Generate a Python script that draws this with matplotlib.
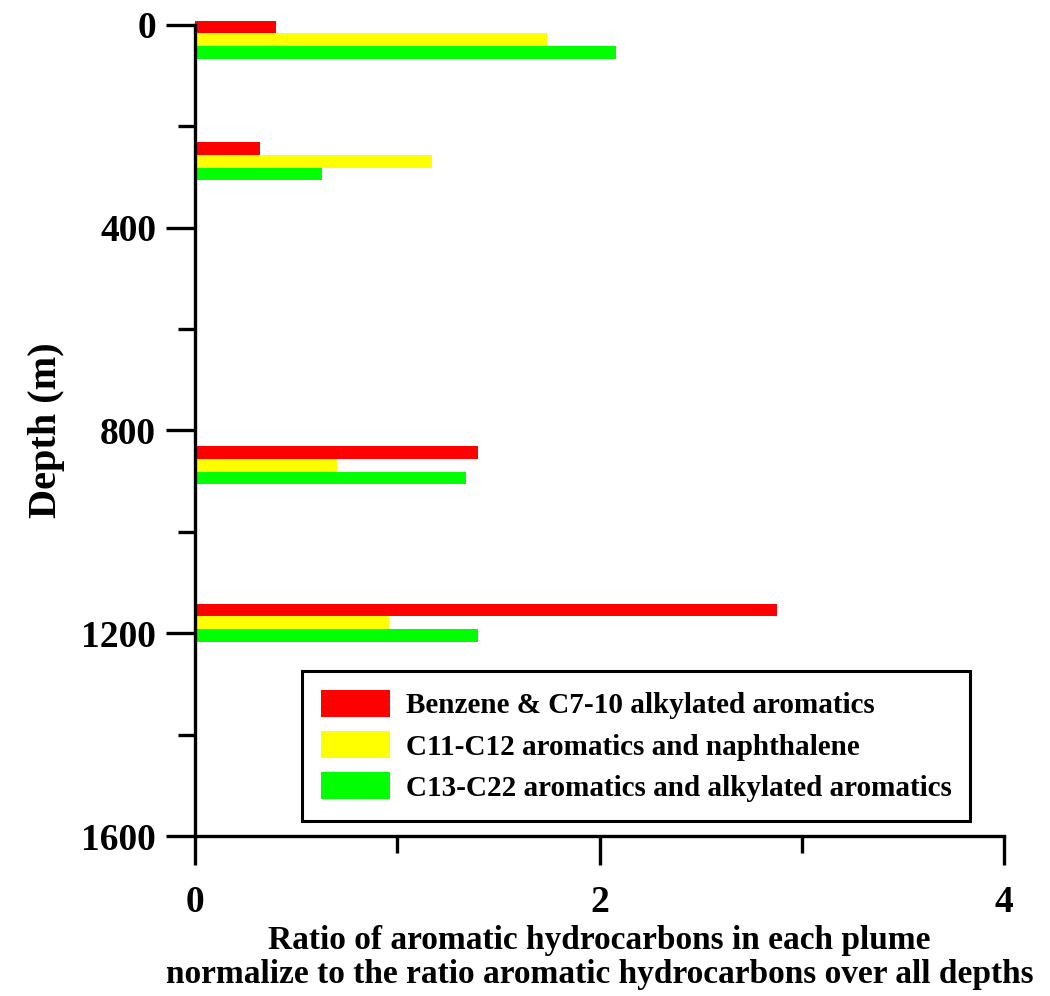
import matplotlib
matplotlib.use("Agg")
import matplotlib.pyplot as plt
from matplotlib.ticker import MultipleLocator

plt.rcParams['font.family'] = ['Liberation Serif', 'DejaVu Serif']
plt.rcParams['font.weight'] = 'bold'

group_depths = [0, 240, 840, 1150]
series_names = ["Benzene & C7-10 alkylated aromatics",
                "C11-C12 aromatics and naphthalene",
                "C13-C22 aromatics and alkylated aromatics"]
benzene = [0.40, 0.32, 1.40, 2.88]
c11_c12 = [1.74, 1.17, 0.70, 0.96]
c13_c22 = [2.08, 0.63, 1.34, 1.40]
colors = ["#ff0000", "#ffff00", "#00ff00"]

fig = plt.figure(figsize=(10.5, 9.96), dpi=100)
ax = fig.add_axes([195/1050, 1-836/996, 809/1050, 811/996])

bar_h = 25
for i, (vals, name, col) in enumerate(zip([benzene, c11_c12, c13_c22], series_names, colors)):
    ys = [d + 4 + i*bar_h for d in group_depths]
    bars = ax.barh(ys, vals, height=bar_h, color=col, edgecolor='none', label=name)
    for b in bars:
        b.set_clip_on(False)

ax.set_xlim(0, 4)
ax.set_ylim(1600, 0)
ax.xaxis.set_major_locator(MultipleLocator(2))
ax.xaxis.set_minor_locator(MultipleLocator(1))
ax.yaxis.set_major_locator(MultipleLocator(400))
ax.yaxis.set_minor_locator(MultipleLocator(200))
for s in ['top', 'right']:
    ax.spines[s].set_visible(False)
for s in ['left', 'bottom']:
    ax.spines[s].set_linewidth(2.4)
ax.tick_params(axis='both', which='major', length=21, width=2.4, labelsize=27, direction='out')
ax.tick_params(axis='both', which='minor', length=12, width=2.4, direction='out')
ax.tick_params(axis='y', which='major', pad=7)
ax.tick_params(axis='x', which='major', pad=14)

ax.set_ylabel("Depth (m)", fontsize=29, fontweight='bold', labelpad=12)
ax.set_xlabel("Ratio of aromatic hydrocarbons in each plume\nnormalize to the ratio aromatic hydrocarbons over all depths",
              fontsize=24, fontweight='bold', labelpad=4, linespacing=1.1)

leg = fig.legend(loc='upper left', bbox_to_anchor=(302/1050, 1-671/996), borderaxespad=0,
                 fontsize=21, handlelength=2.35, handleheight=1.05, labelspacing=0.4,
                 frameon=True, fancybox=False, edgecolor='black', framealpha=1,
                 borderpad=0.65, handletextpad=0.55)
leg.get_frame().set_linewidth(2.2)

fig.savefig("out.png", dpi=100)
